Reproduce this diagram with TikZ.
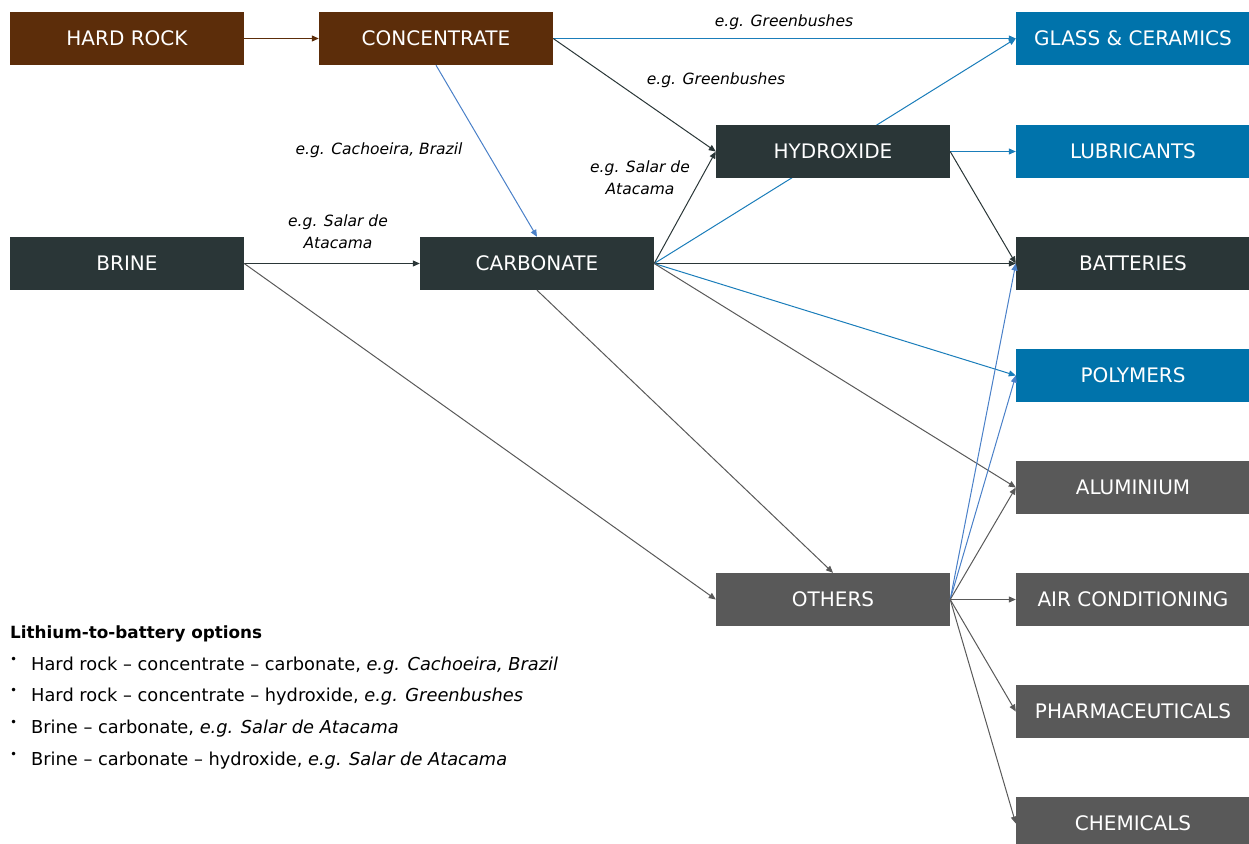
\documentclass[tikz,border=0pt]{standalone}
\usepackage{fontspec}
\setmainfont{DejaVu Sans}
\usetikzlibrary{arrows.meta,backgrounds}
\definecolor{rockbrown}{HTML}{5C2D0A}
\definecolor{brinedark}{HTML}{2A3637}
\definecolor{useblue}{HTML}{0073AB}
\definecolor{othergrey}{HTML}{595959}
\definecolor{lineblue}{HTML}{1A7DBA}
\definecolor{lineblue2}{HTML}{4A80C8}

\begin{document}
\begin{tikzpicture}[x=1pt,y=-1pt,
    box/.style={minimum width=234pt,minimum height=53pt,inner sep=0pt,text=white,font=\fontsize{20}{24}\selectfont},
    eg/.style={font=\fontsize{15.5}{22}\selectfont\itshape,align=center,inner sep=1pt},
    legend/.style={font=\fontsize{17.8}{21}\selectfont,anchor=west,inner sep=0pt},
    flow/.style={-{Triangle[length=7pt,width=6pt]},line width=1pt}]
    \useasboundingbox (0,0) rectangle (1249,843);
    \clip (0,0) rectangle (1249,843);

    % sources and products
    \node[box,fill=rockbrown] (hardrock) at (127,38.5) {HARD ROCK};
    \node[box,fill=rockbrown] (conc) at (436,38.5) {CONCENTRATE};
    \node[box,fill=brinedark] (brine) at (127,263.5) {BRINE};
    \node[box,fill=brinedark] (carb) at (537,263.5) {CARBONATE};
    \node[box,fill=brinedark] (hydrox) at (833,151.5) {HYDROXIDE};
    \node[box,fill=othergrey] (others) at (833,599.5) {OTHERS};

    % end uses
    \node[box,fill=useblue] (glass) at (1133,38.5) {GLASS \& CERAMICS};
    \node[box,fill=useblue] (lubric) at (1133,151.5) {LUBRICANTS};
    \node[box,fill=brinedark] (batt) at (1133,263.5) {BATTERIES};
    \node[box,fill=useblue] (polym) at (1133,375.5) {POLYMERS};
    \node[box,fill=othergrey] (alu) at (1133,487.5) {ALUMINIUM};
    \node[box,fill=othergrey] (aircon) at (1133,599.5) {AIR CONDITIONING};
    \node[box,fill=othergrey] (pharma) at (1133,711.5) {PHARMACEUTICALS};
    \node[box,fill=othergrey] (chem) at (1133,823.5) {CHEMICALS};

    % flows
    \draw[flow,rockbrown] (hardrock.east)--(conc.west);
    \draw[flow,lineblue] (conc.east)--(glass.west);
    \draw[flow,brinedark] (conc.east)--(hydrox.west);
    \draw[flow,lineblue2] (conc.south)--(carb.north);
    \draw[flow,brinedark] (brine.east)--(carb.west);
    \draw[flow,othergrey] (brine.east)--(others.west);
    \draw[flow,brinedark] (carb.east)--(hydrox.west);
    \begin{scope}[on background layer]
        \draw[flow,lineblue] (carb.east)--(glass.west);
    \end{scope}
    \draw[flow,brinedark] (carb.east)--(batt.west);
    \draw[flow,lineblue] (carb.east)--(polym.west);
    \draw[flow,othergrey] (carb.east)--(alu.west);
    \draw[flow,othergrey] (carb.south)--(others.north);
    \draw[flow,lineblue] (hydrox.east)--(lubric.west);
    \draw[flow,brinedark] (hydrox.east)--(batt.west);
    \draw[flow,lineblue2] (others.east)--(batt.west);
    \draw[flow,lineblue2] (others.east)--(polym.west);
    \draw[flow,othergrey] (others.east)--(alu.west);
    \draw[flow,othergrey] (others.east)--(aircon.west);
    \draw[flow,othergrey] (others.east)--(pharma.west);
    \draw[flow,othergrey] (others.east)--(chem.west);

    % examples
    \node[eg] (egglass) at (784,22) {e.g. Greenbushes};
    \node[eg] (eghydrox) at (716,80) {e.g. Greenbushes};
    \node[eg] (egcarb) at (379,150) {e.g. Cachoeira, Brazil};
    \node[eg] (egbrine) at (338,232) {e.g. Salar de\\Atacama};
    \node[eg] (egsalar) at (640,178) {e.g. Salar de\\Atacama};

    % options list
    \node[legend,font=\fontsize{16.8}{21}\selectfont\bfseries] (opttitle) at (10,634) {Lithium-to-battery options};
    \foreach \y/\txt [count=\i] in {666/{Hard rock – concentrate – carbonate, \textit{e.g. Cachoeira, Brazil}},
        697/{Hard rock – concentrate – hydroxide, \textit{e.g. Greenbushes}},
        729/{Brine – carbonate, \textit{e.g. Salar de Atacama}},
        761/{Brine – carbonate – hydroxide, \textit{e.g. Salar de Atacama}}}{
        \node[legend,font=\fontsize{12}{12}\selectfont] (dot\i) at (10,\y-6) {•};
        \node[legend] (opt\i) at (31,\y) {\txt};
    }
\end{tikzpicture}
\end{document}
